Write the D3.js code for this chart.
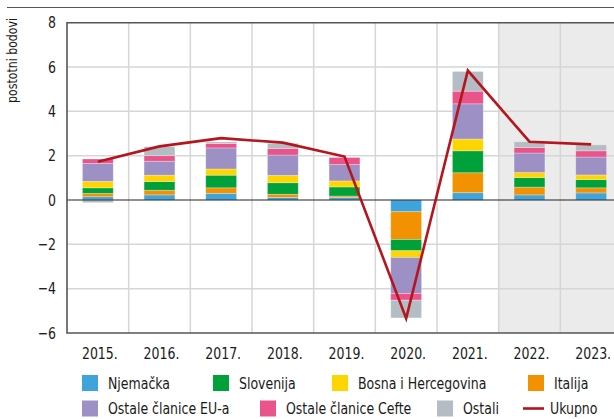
<!DOCTYPE html>
<html>
<head>
<meta charset="utf-8">
<script src="https://cdn.jsdelivr.net/npm/d3@7"></script>
<style>
 body { margin: 0; background: #fff; }
 svg text { font-family: "Liberation Sans Narrow", "Arial Narrow", "DejaVu Sans Condensed", sans-serif; fill: #1a1a1a; }
</style>
</head>
<body>
<script>
const width = 614;
const height = 419;
const squeeze = 0.87; // reference font is a condensed face

// chart data
const years = ["2015.", "2016.", "2017.", "2018.", "2019.", "2020.", "2021.", "2022.", "2023."];
const njemacka  = [0.15, 0.23, 0.30, 0.12, 0.12, -0.53, 0.33, 0.23, 0.32];
const italija   = [0.15, 0.21, 0.25, 0.14, 0.06, -1.25, 0.90, 0.35, 0.23];
const slovenija = [0.25, 0.39, 0.57, 0.52, 0.41, -0.51, 0.99, 0.43, 0.37];
const bih       = [0.29, 0.29, 0.28, 0.33, 0.27, -0.30, 0.53, 0.23, 0.21];
const ostaleEU  = [0.81, 0.63, 0.95, 0.92, 0.74, -1.63, 1.59, 0.88, 0.81];
const cefta     = [0.20, 0.25, 0.20, 0.30, 0.32, -0.30, 0.57, 0.25, 0.28];
const ostali    = [-0.12, 0.41, 0.07, 0.23, 0.02, -0.80, 0.89, 0.26, 0.27];
const ukupno    = [1.73, 2.42, 2.79, 2.59, 1.96, -5.34, 5.84, 2.63, 2.51];
const yTicks = [-6, -4, -2, 0, 2, 4, 6, 8];
const forecastFrom = "2022.";

const series = [
 {key: "njemacka",  name: "Njemačka",              color: "#3fa4dc", values: njemacka},
 {key: "italija",   name: "Italija",               color: "#f39200", values: italija},
 {key: "slovenija", name: "Slovenija",             color: "#00a03b", values: slovenija},
 {key: "bih",       name: "Bosna i Hercegovina",   color: "#ffd500", values: bih},
 {key: "ostaleEU",  name: "Ostale članice EU-a",   color: "#9c90c5", values: ostaleEU},
 {key: "cefta",     name: "Ostale članice Cefte",  color: "#e9548a", values: cefta},
 {key: "ostali",    name: "Ostali",                color: "#b5bdc4", values: ostali}
];
const lineColor = "#b5151d";

const rows = years.map((yr, i) => {
 const r = {year: yr};
 series.forEach(s => r[s.key] = s.values[i]);
 return r;
});

const plotLeft = 67, plotRight = 622, plotTop = 22.7, plotBottom = 333;

const x = d3.scaleBand().domain(years).range([plotLeft, plotRight]).paddingInner(0.5).paddingOuter(0.25);
const y = d3.scaleLinear().domain([-6, 8]).range([plotBottom, plotTop]);
const step = x.step();
const boundary = i => plotLeft + i * step;

const svg = d3.select("body").append("svg")
 .attr("width", width)
 .attr("height", height);

// top rule
svg.append("line")
 .attr("x1", 7).attr("x2", width).attr("y1", 7.5).attr("y2", 7.5)
 .attr("stroke", "#555").attr("stroke-width", 1.2);

// forecast shading
const fIdx = years.indexOf(forecastFrom);
svg.append("rect")
 .attr("x", boundary(fIdx)).attr("y", plotTop)
 .attr("width", plotRight - boundary(fIdx)).attr("height", plotBottom - plotTop)
 .attr("fill", "#ebebeb");

// grid
svg.append("g")
 .selectAll("line")
 .data(yTicks.filter(t => t != 0 && t != -6 && t != 8))
 .join("line")
  .attr("x1", plotLeft).attr("x2", plotRight)
  .attr("y1", d => y(d)).attr("y2", d => y(d))
  .attr("stroke", "#d6d6d6").attr("stroke-width", 1.5);

svg.append("g")
 .selectAll("line")
 .data(d3.range(1, years.length))
 .join("line")
  .attr("x1", d => boundary(d)).attr("x2", d => boundary(d))
  .attr("y1", plotTop).attr("y2", plotBottom)
  .attr("stroke", "#d6d6d6").attr("stroke-width", 1.5);

// stacked bars
const stacked = d3.stack()
 .keys(series.map(s => s.key))
 .offset(d3.stackOffsetDiverging)(rows);

svg.append("g")
 .selectAll("g")
 .data(stacked)
 .join("g")
  .attr("fill", (d, i) => series[i].color)
 .selectAll("rect")
 .data(d => d)
 .join("rect")
  .attr("x", d => x(d.data.year))
  .attr("width", x.bandwidth())
  .attr("y", d => y(Math.max(d[0], d[1])))
  .attr("height", d => Math.abs(y(d[0]) - y(d[1])))
  .attr("stroke", "#fff").attr("stroke-opacity", 0.35).attr("stroke-width", 0.8);

// zero line
svg.append("line")
 .attr("x1", plotLeft).attr("x2", plotRight).attr("y1", y(0)).attr("y2", y(0))
 .attr("stroke", "#222").attr("stroke-width", 1.2);

// total line
const line = d3.line()
 .x((d, i) => x(years[i]) + x.bandwidth() / 2)
 .y(d => y(d));

svg.append("path")
 .datum(ukupno)
 .attr("d", line)
 .attr("fill", "none")
 .attr("stroke", lineColor)
 .attr("stroke-width", 2.6)
 .attr("stroke-linejoin", "miter");

// frame
svg.append("path")
 .attr("d", `M${plotRight},${plotTop}H${plotLeft}V${plotBottom}H${plotRight}`)
 .attr("fill", "none").attr("stroke", "#555").attr("stroke-width", 1.6);

// y tick labels
svg.append("g")
 .selectAll("text")
 .data(yTicks)
 .join("text")
  .attr("transform", d => `translate(56,${y(d)}) scale(${squeeze},1)`)
  .attr("dy", "0.36em")
  .attr("text-anchor", "end")
  .attr("font-size", 16)
  .text(d => d < 0 ? "\u2212" + Math.abs(d) : d);

// y axis title
svg.append("text")
 .attr("transform", `translate(17,18) rotate(-90) scale(${squeeze},1)`)
 .attr("text-anchor", "end")
 .attr("font-size", 14)
 .text("postotni bodovi");

// x labels
svg.append("g")
 .selectAll("text")
 .data(years)
 .join("text")
  .attr("transform", d => `translate(${x(d) + x.bandwidth() / 2 + 2},359) scale(${squeeze},1)`)
  .attr("text-anchor", "middle")
  .attr("font-size", 16)
  .text(d => d);

// legend
const legendItems = [
 {name: "Njemačka", color: "#3fa4dc", sx: 82, row: 0},
 {name: "Slovenija", color: "#00a03b", sx: 213, row: 0},
 {name: "Bosna i Hercegovina", color: "#ffd500", sx: 332, row: 0},
 {name: "Italija", color: "#f39200", sx: 528, row: 0},
 {name: "Ostale članice EU-a", color: "#9c90c5", sx: 82, row: 1},
 {name: "Ostale članice Cefte", color: "#e9548a", sx: 260, row: 1},
 {name: "Ostali", color: "#b5bdc4", sx: 437, row: 1},
 {name: "Ukupno", color: lineColor, sx: 523, row: 1, line: true}
];
const rowY = [383, 408.5];

const leg = svg.append("g")
 .selectAll("g")
 .data(legendItems)
 .join("g")
  .attr("transform", d => `translate(${d.sx},${rowY[d.row]})`);

leg.filter(d => !d.line).append("rect")
 .attr("x", 0).attr("y", -8).attr("width", 16).attr("height", 16)
 .attr("fill", d => d.color);

leg.filter(d => d.line).append("line")
 .attr("x1", 0).attr("x2", 21).attr("y1", 0).attr("y2", 0)
 .attr("stroke", d => d.color).attr("stroke-width", 2.6);

leg.append("text")
 .attr("transform", d => `translate(${d.line ? 27 : 26},0) scale(${squeeze},1)`)
 .attr("dy", "0.36em")
 .attr("font-size", 16)
 .text(d => d.name);
</script>
</body>
</html>
